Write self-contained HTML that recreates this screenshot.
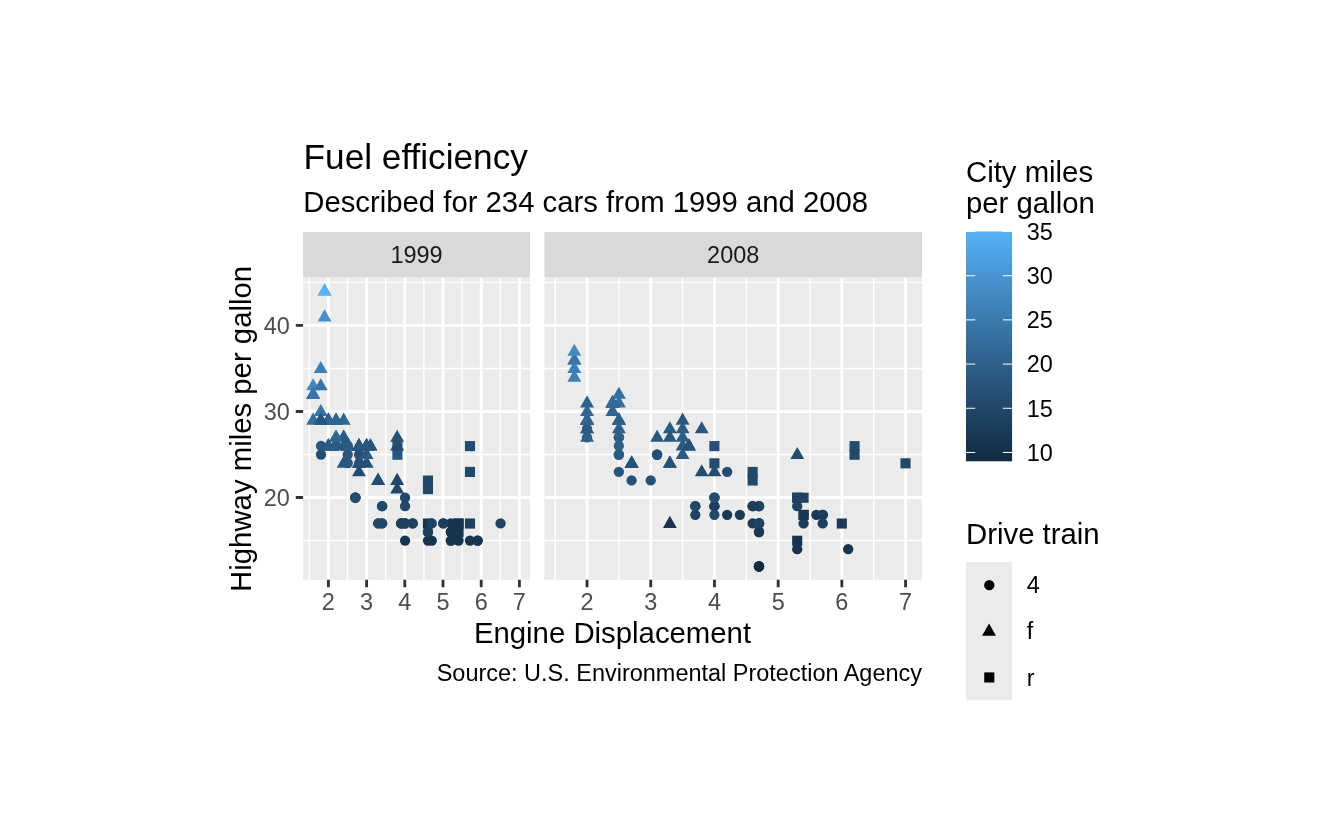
<!DOCTYPE html>
<html lang="en"><head><meta charset="utf-8"><title>Fuel efficiency</title>
<style>html,body{margin:0;padding:0;background:#fff}svg{display:block}</style>
</head><body>
<svg width="1344" height="830" viewBox="0 0 1344 830" font-family="'Liberation Sans', Arial, sans-serif">
<rect width="1344" height="830" fill="#FFFFFF"/>
<text x="303.6" y="169.4" font-size="35.2" fill="#000">Fuel efficiency</text>
<text x="303.3" y="211.6" font-size="29.29" fill="#000">Described for 234 cars from 1999 and 2008</text>
<rect x="303.10" y="232.10" width="226.90" height="44.90" fill="#D9D9D9"/>
<text x="416.55" y="262.9" font-size="23.47" fill="#1A1A1A" text-anchor="middle">1999</text>
<rect x="303.10" y="277.00" width="226.90" height="302.80" fill="#EBEBEB"/>
<path d="M303.10 540.50H530.00M303.10 454.47H530.00M303.10 368.44H530.00M303.10 282.41H530.00M309.30 278.00V579.80M347.50 278.00V579.80M385.70 278.00V579.80M423.90 278.00V579.80M462.10 278.00V579.80M500.30 278.00V579.80" stroke="#FFFFFF" stroke-width="1.42" fill="none"/>
<path d="M303.10 497.49H530.00M303.10 411.46H530.00M303.10 325.43H530.00M328.40 278.00V579.80M366.60 278.00V579.80M404.80 278.00V579.80M443.00 278.00V579.80M481.20 278.00V579.80M519.40 278.00V579.80" stroke="#FFFFFF" stroke-width="2.84" fill="none"/>
<g>
<path d="M320.76 412.56L327.71 424.66L313.81 424.66Z" fill="#29567D"/>
<path d="M320.76 412.56L327.71 424.66L313.81 424.66Z" fill="#306591"/>
<path d="M358.96 438.37L365.91 450.47L352.01 450.47Z" fill="#244C6F"/>
<path d="M358.96 438.37L365.91 450.47L352.01 450.47Z" fill="#29567D"/>
<circle cx="321.01" cy="445.97" r="5.15" fill="#29567D"/>
<circle cx="321.01" cy="454.57" r="5.15" fill="#244C6F"/>
<circle cx="359.21" cy="454.57" r="5.15" fill="#214769"/>
<circle cx="359.21" cy="454.57" r="5.15" fill="#265176"/>
<circle cx="359.21" cy="463.17" r="5.15" fill="#214769"/>
<rect x="464.94" y="518.49" width="10.10" height="10.10" fill="#1C3D5C"/>
<rect x="464.94" y="441.07" width="10.10" height="10.10" fill="#244C6F"/>
<rect x="464.94" y="466.88" width="10.10" height="10.10" fill="#214769"/>
<circle cx="469.99" cy="540.60" r="5.15" fill="#18344F"/>
<circle cx="500.55" cy="523.39" r="5.15" fill="#1F4262"/>
<path d="M343.68 429.76L350.63 441.86L336.73 441.86Z" fill="#2B5B83"/>
<path d="M370.42 438.37L377.37 450.47L363.47 450.47Z" fill="#29567D"/>
<path d="M343.68 455.57L350.63 467.67L336.73 467.67Z" fill="#29567D"/>
<path d="M366.60 455.57L373.55 467.67L359.65 467.67Z" fill="#265176"/>
<path d="M378.06 472.78L385.01 484.88L371.11 484.88Z" fill="#244C6F"/>
<path d="M378.06 472.78L385.01 484.88L371.11 484.88Z" fill="#244C6F"/>
<path d="M397.16 472.78L404.11 484.88L390.21 484.88Z" fill="#214769"/>
<path d="M397.16 481.38L404.11 493.48L390.21 493.48Z" fill="#214769"/>
<circle cx="401.23" cy="523.39" r="5.15" fill="#1C3D5C"/>
<circle cx="401.23" cy="523.39" r="5.15" fill="#1F4262"/>
<circle cx="450.89" cy="523.39" r="5.15" fill="#18344F"/>
<circle cx="450.89" cy="540.60" r="5.15" fill="#18344F"/>
<circle cx="401.23" cy="523.39" r="5.15" fill="#1C3D5C"/>
<circle cx="450.89" cy="532.00" r="5.15" fill="#18344F"/>
<circle cx="477.63" cy="540.60" r="5.15" fill="#18344F"/>
<circle cx="450.89" cy="540.60" r="5.15" fill="#18344F"/>
<circle cx="450.89" cy="532.00" r="5.15" fill="#18344F"/>
<circle cx="477.63" cy="540.60" r="5.15" fill="#18344F"/>
<rect x="422.92" y="518.49" width="10.10" height="10.10" fill="#18344F"/>
<rect x="453.48" y="518.49" width="10.10" height="10.10" fill="#18344F"/>
<circle cx="405.05" cy="523.39" r="5.15" fill="#1F4262"/>
<circle cx="405.05" cy="506.19" r="5.15" fill="#214769"/>
<circle cx="405.05" cy="523.39" r="5.15" fill="#1F4262"/>
<circle cx="443.25" cy="523.39" r="5.15" fill="#1C3D5C"/>
<circle cx="412.69" cy="523.39" r="5.15" fill="#1F4262"/>
<circle cx="412.69" cy="523.39" r="5.15" fill="#1F4262"/>
<circle cx="427.97" cy="532.00" r="5.15" fill="#1C3D5C"/>
<circle cx="427.97" cy="532.00" r="5.15" fill="#1C3D5C"/>
<circle cx="458.53" cy="540.60" r="5.15" fill="#18344F"/>
<rect x="392.36" y="441.07" width="10.10" height="10.10" fill="#29567D"/>
<rect x="392.36" y="449.67" width="10.10" height="10.10" fill="#29567D"/>
<rect x="422.92" y="484.08" width="10.10" height="10.10" fill="#214769"/>
<rect x="422.92" y="475.48" width="10.10" height="10.10" fill="#214769"/>
<path d="M313.12 378.15L320.07 390.25L306.17 390.25Z" fill="#438AC3"/>
<path d="M313.12 386.75L320.07 398.85L306.17 398.85Z" fill="#3875A6"/>
<path d="M313.12 386.75L320.07 398.85L306.17 398.85Z" fill="#3B7AAD"/>
<path d="M313.12 412.56L320.07 424.66L306.17 424.66Z" fill="#356F9F"/>
<path d="M313.12 386.75L320.07 398.85L306.17 398.85Z" fill="#3875A6"/>
<path d="M343.68 438.37L350.63 450.47L336.73 450.47Z" fill="#29567D"/>
<path d="M343.68 429.76L350.63 441.86L336.73 441.86Z" fill="#29567D"/>
<path d="M347.50 438.37L354.45 450.47L340.55 450.47Z" fill="#29567D"/>
<path d="M347.50 438.37L354.45 450.47L340.55 450.47Z" fill="#29567D"/>
<path d="M328.40 438.37L335.35 450.47L321.45 450.47Z" fill="#2B5B83"/>
<path d="M328.40 412.56L335.35 424.66L321.45 424.66Z" fill="#2B5B83"/>
<circle cx="405.05" cy="497.59" r="5.15" fill="#214769"/>
<circle cx="431.79" cy="523.39" r="5.15" fill="#1F4262"/>
<circle cx="405.05" cy="540.60" r="5.15" fill="#18344F"/>
<circle cx="427.97" cy="540.60" r="5.15" fill="#18344F"/>
<rect x="453.48" y="518.49" width="10.10" height="10.10" fill="#18344F"/>
<rect x="453.48" y="527.10" width="10.10" height="10.10" fill="#18344F"/>
<circle cx="405.05" cy="523.39" r="5.15" fill="#1F4262"/>
<circle cx="443.25" cy="523.39" r="5.15" fill="#1C3D5C"/>
<path d="M343.68 412.56L350.63 424.66L336.73 424.66Z" fill="#306591"/>
<path d="M343.68 429.76L350.63 441.86L336.73 441.86Z" fill="#2B5B83"/>
<path d="M366.60 438.37L373.55 450.47L359.65 450.47Z" fill="#29567D"/>
<path d="M366.60 446.97L373.55 459.07L359.65 459.07Z" fill="#2B5B83"/>
<circle cx="378.31" cy="523.39" r="5.15" fill="#1F4262"/>
<circle cx="378.31" cy="523.39" r="5.15" fill="#214769"/>
<path d="M370.42 438.37L377.37 450.47L363.47 450.47Z" fill="#29567D"/>
<path d="M397.16 438.37L404.11 450.47L390.21 450.47Z" fill="#244C6F"/>
<path d="M397.16 429.76L404.11 441.86L390.21 441.86Z" fill="#265176"/>
<circle cx="347.75" cy="454.57" r="5.15" fill="#29567D"/>
<circle cx="347.75" cy="463.17" r="5.15" fill="#29567D"/>
<circle cx="336.29" cy="445.97" r="5.15" fill="#306591"/>
<circle cx="336.29" cy="445.97" r="5.15" fill="#2B5B83"/>
<circle cx="347.75" cy="445.97" r="5.15" fill="#2B5B83"/>
<circle cx="347.75" cy="445.97" r="5.15" fill="#2B5B83"/>
<circle cx="355.39" cy="497.59" r="5.15" fill="#214769"/>
<circle cx="355.39" cy="497.59" r="5.15" fill="#244C6F"/>
<circle cx="382.13" cy="506.19" r="5.15" fill="#214769"/>
<circle cx="382.13" cy="523.39" r="5.15" fill="#214769"/>
<path d="M336.04 412.56L342.99 424.66L329.09 424.66Z" fill="#306591"/>
<path d="M336.04 429.76L342.99 441.86L329.09 441.86Z" fill="#306591"/>
<path d="M366.60 438.37L373.55 450.47L359.65 450.47Z" fill="#29567D"/>
<path d="M366.60 438.37L373.55 450.47L359.65 450.47Z" fill="#29567D"/>
<path d="M336.04 429.76L342.99 441.86L329.09 441.86Z" fill="#306591"/>
<path d="M336.04 412.56L342.99 424.66L329.09 424.66Z" fill="#306591"/>
<path d="M366.60 438.37L373.55 450.47L359.65 450.47Z" fill="#29567D"/>
<path d="M366.60 438.37L373.55 450.47L359.65 450.47Z" fill="#29567D"/>
<path d="M320.76 403.96L327.71 416.06L313.81 416.06Z" fill="#3875A6"/>
<path d="M320.76 378.15L327.71 390.25L313.81 390.25Z" fill="#3875A6"/>
<path d="M320.76 360.94L327.71 373.04L313.81 373.04Z" fill="#3D7FB4"/>
<circle cx="431.79" cy="540.60" r="5.15" fill="#18344F"/>
<circle cx="355.39" cy="497.59" r="5.15" fill="#214769"/>
<circle cx="355.39" cy="497.59" r="5.15" fill="#244C6F"/>
<circle cx="382.13" cy="523.39" r="5.15" fill="#214769"/>
<circle cx="382.13" cy="506.19" r="5.15" fill="#214769"/>
<path d="M328.40 412.56L335.35 424.66L321.45 424.66Z" fill="#306591"/>
<path d="M328.40 438.37L335.35 450.47L321.45 450.47Z" fill="#2B5B83"/>
<path d="M358.96 455.57L365.91 467.67L352.01 467.67Z" fill="#265176"/>
<path d="M324.58 283.51L331.53 295.61L317.63 295.61Z" fill="#50A6E8"/>
<path d="M328.40 412.56L335.35 424.66L321.45 424.66Z" fill="#306591"/>
<path d="M328.40 438.37L335.35 450.47L321.45 450.47Z" fill="#2B5B83"/>
<path d="M358.96 464.18L365.91 476.28L352.01 476.28Z" fill="#244C6F"/>
<path d="M358.96 455.57L365.91 467.67L352.01 467.67Z" fill="#265176"/>
<path d="M324.58 283.51L331.53 295.61L317.63 295.61Z" fill="#56B1F7"/>
<path d="M324.58 309.32L331.53 321.42L317.63 321.42Z" fill="#458FCA"/>
<path d="M328.40 412.56L335.35 424.66L321.45 424.66Z" fill="#306591"/>
<path d="M328.40 438.37L335.35 450.47L321.45 450.47Z" fill="#2B5B83"/>
<path d="M320.76 412.56L327.71 424.66L313.81 424.66Z" fill="#306591"/>
<path d="M320.76 412.56L327.71 424.66L313.81 424.66Z" fill="#29567D"/>
<path d="M358.96 438.37L365.91 450.47L352.01 450.47Z" fill="#244C6F"/>
<path d="M358.96 438.37L365.91 450.47L352.01 450.47Z" fill="#29567D"/>
</g>
<path d="M328.40 579.80V587.13M366.60 579.80V587.13M404.80 579.80V587.13M443.00 579.80V587.13M481.20 579.80V587.13M519.40 579.80V587.13" stroke="#333333" stroke-width="2.84" fill="none"/>
<text x="328.40" y="609.6" font-size="23.47" fill="#4D4D4D" text-anchor="middle">2</text>
<text x="366.60" y="609.6" font-size="23.47" fill="#4D4D4D" text-anchor="middle">3</text>
<text x="404.80" y="609.6" font-size="23.47" fill="#4D4D4D" text-anchor="middle">4</text>
<text x="443.00" y="609.6" font-size="23.47" fill="#4D4D4D" text-anchor="middle">5</text>
<text x="481.20" y="609.6" font-size="23.47" fill="#4D4D4D" text-anchor="middle">6</text>
<text x="519.40" y="609.6" font-size="23.47" fill="#4D4D4D" text-anchor="middle">7</text>
<rect x="544.40" y="232.10" width="377.60" height="44.90" fill="#D9D9D9"/>
<text x="733.20" y="262.9" font-size="23.47" fill="#1A1A1A" text-anchor="middle">2008</text>
<rect x="544.40" y="277.00" width="377.60" height="302.80" fill="#EBEBEB"/>
<path d="M544.40 540.50H922.00M544.40 454.47H922.00M544.40 368.44H922.00M544.40 282.41H922.00M555.21 278.00V579.80M618.91 278.00V579.80M682.61 278.00V579.80M746.31 278.00V579.80M810.01 278.00V579.80M873.71 278.00V579.80" stroke="#FFFFFF" stroke-width="1.42" fill="none"/>
<path d="M544.40 497.49H922.00M544.40 411.46H922.00M544.40 325.43H922.00M587.06 278.00V579.80M650.76 278.00V579.80M714.46 278.00V579.80M778.16 278.00V579.80M841.86 278.00V579.80M905.56 278.00V579.80" stroke="#FFFFFF" stroke-width="2.84" fill="none"/>
<g>
<path d="M587.06 395.35L594.01 407.45L580.11 407.45Z" fill="#2E608A"/>
<path d="M587.06 403.96L594.01 416.06L580.11 416.06Z" fill="#306591"/>
<path d="M657.13 429.76L664.08 441.86L650.18 441.86Z" fill="#29567D"/>
<circle cx="587.01" cy="428.76" r="5.15" fill="#2E608A"/>
<circle cx="587.01" cy="437.36" r="5.15" fill="#2B5B83"/>
<circle cx="657.08" cy="454.57" r="5.15" fill="#265176"/>
<circle cx="657.08" cy="454.57" r="5.15" fill="#214769"/>
<circle cx="657.08" cy="454.57" r="5.15" fill="#265176"/>
<circle cx="727.15" cy="471.78" r="5.15" fill="#244C6F"/>
<rect x="792.17" y="492.69" width="10.10" height="10.10" fill="#1F4262"/>
<rect x="792.17" y="535.70" width="10.10" height="10.10" fill="#18344F"/>
<rect x="792.17" y="492.69" width="10.10" height="10.10" fill="#1F4262"/>
<rect x="836.76" y="518.49" width="10.10" height="10.10" fill="#1A3955"/>
<rect x="849.50" y="441.07" width="10.10" height="10.10" fill="#244C6F"/>
<rect x="849.50" y="449.67" width="10.10" height="10.10" fill="#214769"/>
<rect x="900.46" y="458.27" width="10.10" height="10.10" fill="#214769"/>
<circle cx="797.22" cy="506.19" r="5.15" fill="#1F4262"/>
<circle cx="797.22" cy="549.20" r="5.15" fill="#18344F"/>
<path d="M612.54 403.96L619.49 416.06L605.59 416.06Z" fill="#336A98"/>
<path d="M682.61 412.56L689.56 424.66L675.66 424.66Z" fill="#29567D"/>
<path d="M688.98 438.37L695.93 450.47L682.03 450.47Z" fill="#265176"/>
<path d="M669.87 455.57L676.82 467.67L662.92 467.67Z" fill="#265176"/>
<path d="M669.87 455.57L676.82 467.67L662.92 467.67Z" fill="#265176"/>
<path d="M669.87 515.79L676.82 527.89L662.92 527.89Z" fill="#18344F"/>
<path d="M701.72 464.18L708.67 476.28L694.77 476.28Z" fill="#244C6F"/>
<path d="M714.46 464.18L721.41 476.28L707.51 476.28Z" fill="#244C6F"/>
<circle cx="695.30" cy="506.19" r="5.15" fill="#214769"/>
<circle cx="695.30" cy="514.79" r="5.15" fill="#1F4262"/>
<circle cx="759.00" cy="506.19" r="5.15" fill="#1F4262"/>
<circle cx="759.00" cy="506.19" r="5.15" fill="#1F4262"/>
<circle cx="759.00" cy="566.41" r="5.15" fill="#132B43"/>
<circle cx="759.00" cy="523.39" r="5.15" fill="#1C3D5C"/>
<circle cx="759.00" cy="566.41" r="5.15" fill="#132B43"/>
<circle cx="759.00" cy="523.39" r="5.15" fill="#1C3D5C"/>
<circle cx="822.70" cy="514.79" r="5.15" fill="#1C3D5C"/>
<circle cx="759.00" cy="532.00" r="5.15" fill="#1A3955"/>
<circle cx="759.00" cy="566.41" r="5.15" fill="#132B43"/>
<circle cx="759.00" cy="523.39" r="5.15" fill="#1C3D5C"/>
<circle cx="759.00" cy="523.39" r="5.15" fill="#1C3D5C"/>
<circle cx="759.00" cy="532.00" r="5.15" fill="#1A3955"/>
<circle cx="759.00" cy="566.41" r="5.15" fill="#132B43"/>
<circle cx="822.70" cy="523.39" r="5.15" fill="#1C3D5C"/>
<rect x="798.54" y="509.89" width="10.10" height="10.10" fill="#1A3955"/>
<circle cx="714.41" cy="506.19" r="5.15" fill="#1C3D5C"/>
<circle cx="752.63" cy="506.19" r="5.15" fill="#1C3D5C"/>
<circle cx="752.63" cy="523.39" r="5.15" fill="#1C3D5C"/>
<circle cx="803.59" cy="523.39" r="5.15" fill="#1C3D5C"/>
<rect x="709.36" y="441.07" width="10.10" height="10.10" fill="#265176"/>
<rect x="709.36" y="458.27" width="10.10" height="10.10" fill="#244C6F"/>
<rect x="747.58" y="466.88" width="10.10" height="10.10" fill="#214769"/>
<rect x="747.58" y="475.48" width="10.10" height="10.10" fill="#214769"/>
<rect x="798.54" y="492.69" width="10.10" height="10.10" fill="#1F4262"/>
<path d="M574.32 369.54L581.27 381.64L567.37 381.64Z" fill="#3D7FB4"/>
<path d="M574.32 352.34L581.27 364.44L567.37 364.44Z" fill="#3B7AAD"/>
<path d="M574.32 352.34L581.27 364.44L567.37 364.44Z" fill="#3875A6"/>
<path d="M587.06 412.56L594.01 424.66L580.11 424.66Z" fill="#306591"/>
<path d="M612.54 403.96L619.49 416.06L605.59 416.06Z" fill="#306591"/>
<path d="M612.54 395.35L619.49 407.45L605.59 407.45Z" fill="#306591"/>
<path d="M669.87 421.16L676.82 433.26L662.92 433.26Z" fill="#2B5B83"/>
<path d="M587.06 421.16L594.01 433.26L580.11 433.26Z" fill="#2E608A"/>
<path d="M587.06 429.76L594.01 441.86L580.11 441.86Z" fill="#2E608A"/>
<path d="M631.65 455.57L638.60 467.67L624.70 467.67Z" fill="#265176"/>
<path d="M631.65 455.57L638.60 467.67L624.70 467.67Z" fill="#244C6F"/>
<path d="M631.65 455.57L638.60 467.67L624.70 467.67Z" fill="#265176"/>
<circle cx="650.71" cy="480.38" r="5.15" fill="#265176"/>
<circle cx="695.30" cy="506.19" r="5.15" fill="#214769"/>
<circle cx="759.00" cy="566.41" r="5.15" fill="#132B43"/>
<circle cx="759.00" cy="506.19" r="5.15" fill="#1F4262"/>
<circle cx="822.70" cy="514.79" r="5.15" fill="#1C3D5C"/>
<circle cx="848.18" cy="549.20" r="5.15" fill="#18344F"/>
<circle cx="727.15" cy="514.79" r="5.15" fill="#1A3955"/>
<circle cx="739.89" cy="514.79" r="5.15" fill="#1A3955"/>
<rect x="798.54" y="509.89" width="10.10" height="10.10" fill="#1A3955"/>
<circle cx="714.41" cy="506.19" r="5.15" fill="#1C3D5C"/>
<circle cx="752.63" cy="506.19" r="5.15" fill="#1C3D5C"/>
<path d="M618.91 395.35L625.86 407.45L611.96 407.45Z" fill="#356F9F"/>
<path d="M618.91 386.75L625.86 398.85L611.96 398.85Z" fill="#356F9F"/>
<path d="M682.61 429.76L689.56 441.86L675.66 441.86Z" fill="#2B5B83"/>
<path d="M682.61 438.37L689.56 450.47L675.66 450.47Z" fill="#2B5B83"/>
<path d="M682.61 446.97L689.56 459.07L675.66 459.07Z" fill="#2B5B83"/>
<circle cx="714.41" cy="497.59" r="5.15" fill="#1F4262"/>
<circle cx="816.33" cy="514.79" r="5.15" fill="#1A3955"/>
<path d="M701.72 421.16L708.67 433.26L694.77 433.26Z" fill="#29567D"/>
<path d="M797.27 446.97L804.22 459.07L790.32 459.07Z" fill="#244C6F"/>
<circle cx="618.86" cy="437.36" r="5.15" fill="#2E608A"/>
<circle cx="618.86" cy="454.57" r="5.15" fill="#2B5B83"/>
<circle cx="618.86" cy="445.97" r="5.15" fill="#2E608A"/>
<circle cx="618.86" cy="471.78" r="5.15" fill="#29567D"/>
<circle cx="618.86" cy="454.57" r="5.15" fill="#2E608A"/>
<circle cx="618.86" cy="437.36" r="5.15" fill="#2E608A"/>
<circle cx="618.86" cy="454.57" r="5.15" fill="#2B5B83"/>
<circle cx="618.86" cy="437.36" r="5.15" fill="#2E608A"/>
<circle cx="714.41" cy="497.59" r="5.15" fill="#244C6F"/>
<circle cx="759.00" cy="523.39" r="5.15" fill="#1F4262"/>
<path d="M612.54 395.35L619.49 407.45L605.59 407.45Z" fill="#306591"/>
<path d="M612.54 395.35L619.49 407.45L605.59 407.45Z" fill="#306591"/>
<path d="M682.61 421.16L689.56 433.26L675.66 433.26Z" fill="#2B5B83"/>
<path d="M612.54 395.35L619.49 407.45L605.59 407.45Z" fill="#306591"/>
<path d="M612.54 395.35L619.49 407.45L605.59 407.45Z" fill="#336A98"/>
<path d="M669.87 429.76L676.82 441.86L662.92 441.86Z" fill="#29567D"/>
<path d="M574.32 343.73L581.27 355.83L567.37 355.83Z" fill="#438AC3"/>
<path d="M574.32 360.94L581.27 373.04L567.37 373.04Z" fill="#3D7FB4"/>
<circle cx="822.70" cy="514.79" r="5.15" fill="#1C3D5C"/>
<circle cx="631.60" cy="480.38" r="5.15" fill="#265176"/>
<circle cx="714.41" cy="514.79" r="5.15" fill="#214769"/>
<circle cx="714.41" cy="497.59" r="5.15" fill="#244C6F"/>
<path d="M587.06 412.56L594.01 424.66L580.11 424.66Z" fill="#306591"/>
<path d="M587.06 412.56L594.01 424.66L580.11 424.66Z" fill="#336A98"/>
<path d="M587.06 412.56L594.01 424.66L580.11 424.66Z" fill="#336A98"/>
<path d="M587.06 412.56L594.01 424.66L580.11 424.66Z" fill="#306591"/>
<path d="M618.91 412.56L625.86 424.66L611.96 424.66Z" fill="#306591"/>
<path d="M618.91 412.56L625.86 424.66L611.96 424.66Z" fill="#306591"/>
<path d="M618.91 421.16L625.86 433.26L611.96 433.26Z" fill="#2E608A"/>
<path d="M618.91 412.56L625.86 424.66L611.96 424.66Z" fill="#2E608A"/>
<path d="M587.06 421.16L594.01 433.26L580.11 433.26Z" fill="#2B5B83"/>
<path d="M587.06 412.56L594.01 424.66L580.11 424.66Z" fill="#306591"/>
<path d="M688.98 438.37L695.93 450.47L682.03 450.47Z" fill="#265176"/>
</g>
<path d="M587.06 579.80V587.13M650.76 579.80V587.13M714.46 579.80V587.13M778.16 579.80V587.13M841.86 579.80V587.13M905.56 579.80V587.13" stroke="#333333" stroke-width="2.84" fill="none"/>
<text x="587.06" y="609.6" font-size="23.47" fill="#4D4D4D" text-anchor="middle">2</text>
<text x="650.76" y="609.6" font-size="23.47" fill="#4D4D4D" text-anchor="middle">3</text>
<text x="714.46" y="609.6" font-size="23.47" fill="#4D4D4D" text-anchor="middle">4</text>
<text x="778.16" y="609.6" font-size="23.47" fill="#4D4D4D" text-anchor="middle">5</text>
<text x="841.86" y="609.6" font-size="23.47" fill="#4D4D4D" text-anchor="middle">6</text>
<text x="905.56" y="609.6" font-size="23.47" fill="#4D4D4D" text-anchor="middle">7</text>
<path d="M295.77 497.49H303.10M295.77 411.46H303.10M295.77 325.43H303.10" stroke="#333333" stroke-width="2.84" fill="none"/>
<text x="289.9" y="505.79" font-size="23.47" fill="#4D4D4D" text-anchor="end">20</text>
<text x="289.9" y="419.76" font-size="23.47" fill="#4D4D4D" text-anchor="end">30</text>
<text x="289.9" y="333.73" font-size="23.47" fill="#4D4D4D" text-anchor="end">40</text>
<text x="612.5" y="642.9" font-size="29.33" fill="#000" text-anchor="middle">Engine Displacement</text>
<text transform="translate(251.2,428.9) rotate(-90)" font-size="29.33" fill="#000" text-anchor="middle">Highway miles per gallon</text>
<text x="922.0" y="680.6" font-size="23.47" fill="#000" text-anchor="end">Source: U.S. Environmental Protection Agency</text>
<text x="966.0" y="182" font-size="29.33" fill="#000">City miles</text>
<text x="966.0" y="212.5" font-size="29.33" fill="#000">per gallon</text>
<defs><linearGradient id="cb" x1="0" y1="0" x2="0" y2="1"><stop offset="0.0000" stop-color="#56B1F7"/><stop offset="0.0500" stop-color="#52AAED"/><stop offset="0.1000" stop-color="#4FA2E3"/><stop offset="0.1500" stop-color="#4B9BDA"/><stop offset="0.2000" stop-color="#4894D0"/><stop offset="0.2500" stop-color="#448DC6"/><stop offset="0.3000" stop-color="#4186BD"/><stop offset="0.3500" stop-color="#3D7FB4"/><stop offset="0.4000" stop-color="#3A78AA"/><stop offset="0.4500" stop-color="#3671A1"/><stop offset="0.5000" stop-color="#336A98"/><stop offset="0.5500" stop-color="#2F638F"/><stop offset="0.6000" stop-color="#2C5D86"/><stop offset="0.6500" stop-color="#29567D"/><stop offset="0.7000" stop-color="#265075"/><stop offset="0.7500" stop-color="#22496C"/><stop offset="0.8000" stop-color="#1F4364"/><stop offset="0.8500" stop-color="#1C3D5B"/><stop offset="0.9000" stop-color="#193753"/><stop offset="0.9500" stop-color="#16314B"/><stop offset="1.0000" stop-color="#132B43"/></linearGradient></defs>
<rect x="966.00" y="231.50" width="46.08" height="229.80" fill="url(#cb)"/>
<text x="1026.78" y="460.76" font-size="23.47" fill="#000">10</text>
<text x="1026.78" y="416.57" font-size="23.47" fill="#000">15</text>
<text x="1026.78" y="372.38" font-size="23.47" fill="#000">20</text>
<text x="1026.78" y="328.18" font-size="23.47" fill="#000">25</text>
<text x="1026.78" y="283.99" font-size="23.47" fill="#000">30</text>
<text x="1026.78" y="239.80" font-size="23.47" fill="#000">35</text>
<path d="M966.00 452.46h9.22M1012.08 452.46h-9.22M966.00 408.27h9.22M1012.08 408.27h-9.22M966.00 364.08h9.22M1012.08 364.08h-9.22M966.00 319.88h9.22M1012.08 319.88h-9.22M966.00 275.69h9.22M1012.08 275.69h-9.22M966.00 231.50h9.22M1012.08 231.50h-9.22" stroke="#FFFFFF" stroke-width="1.0" fill="none"/>
<text x="966.0" y="543.5" font-size="29.33" fill="#000">Drive train</text>
<rect x="966.00" y="562.00" width="46.08" height="138.24" fill="#EBEBEB"/>
<circle cx="989.29" cy="585.14" r="5.15" fill="#000000"/>
<text x="1026.78" y="593.34" font-size="23.47" fill="#000">4</text>
<path d="M989.04 623.62L995.99 635.72L982.09 635.72Z" fill="#000000"/>
<text x="1026.78" y="639.42" font-size="23.47" fill="#000">f</text>
<rect x="984.24" y="672.40" width="10.10" height="10.10" fill="#000000"/>
<text x="1026.78" y="685.50" font-size="23.47" fill="#000">r</text>
</svg>
</body></html>
